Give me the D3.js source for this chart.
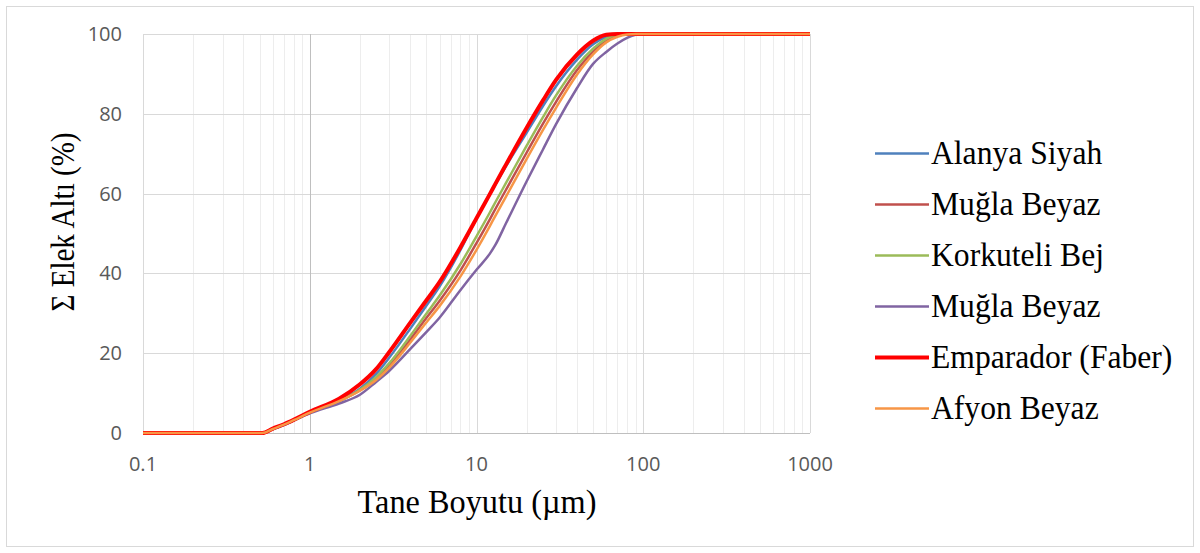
<!DOCTYPE html>
<html>
<head>
<style>
body { margin: 0; background: #fff; }
</style>
</head>
<body>
<script src="https://cdn.jsdelivr.net/npm/d3@7"></script>
<script>
// particle size (µm) and cumulative passing (%)
var sizes = [0.1, 0.5, 0.52, 0.6, 0.7, 0.8, 1, 1.5, 2, 2.5, 3, 4, 5, 6, 8, 10, 12, 13, 15, 20, 25, 30, 40, 50, 60, 70, 80, 90, 100, 200, 500, 1000];

var alanya    = [0, 0, 0, 1.0, 2.1, 3.2, 5.1, 8.2, 11.1, 14.8, 18.9, 26.1, 31.9, 36.7, 45.8, 53.8, 59.8, 62.3, 66.8, 75.3, 81.9, 86.9, 93.5, 97.4, 99.3, 100, 100, 100, 100, 100, 100, 100];
var muglaR    = [0, 0, 0, 1.0, 2.1, 3.2, 5.1, 8.0, 10.7, 13.6, 17.0, 23.4, 28.8, 33.1, 40.7, 47.6, 53.5, 56.2, 60.9, 70.3, 77.5, 83.0, 90.9, 95.6, 98.4, 99.6, 100, 100, 100, 100, 100, 100];
var korkuteli = [0, 0, 0, 1.0, 2.1, 3.2, 5.1, 8.0, 10.8, 14.0, 17.5, 24.3, 29.9, 34.4, 42.3, 49.3, 55.2, 57.9, 62.6, 72.0, 79.1, 84.6, 92.0, 96.3, 98.8, 99.9, 100, 100, 100, 100, 100, 100];
var muglaP    = [0, 0, 0, 0.9, 2.0, 3.1, 4.9, 7.4, 9.6, 12.8, 15.6, 21.0, 25.3, 28.9, 35.8, 40.9, 44.9, 47.2, 52.5, 63.1, 71.0, 77.4, 86.4, 92.5, 95.5, 97.6, 99.0, 99.8, 100, 100, 100, 100];
var emparador = [0, 0, 0, 1.1, 2.2, 3.3, 5.3, 8.6, 12.2, 16.0, 20.3, 27.6, 33.2, 37.8, 46.5, 53.8, 59.8, 62.5, 67.2, 76.5, 83.3, 88.5, 94.8, 98.3, 99.8, 100, 100, 100, 100, 100, 100, 100];
var afyon     = [0, 0, 0, 1.0, 2.1, 3.2, 5.1, 8.0, 10.6, 13.3, 16.4, 22.6, 27.7, 31.8, 39.2, 45.9, 51.8, 54.5, 59.2, 68.7, 75.9, 81.5, 89.8, 94.9, 97.9, 99.3, 99.9, 100, 100, 100, 100, 100];

var names   = ["Alanya Siyah", "Muğla Beyaz", "Korkuteli Bej", "Muğla Beyaz", "Emparador (Faber)", "Afyon Beyaz"];
var series  = [alanya, muglaR, korkuteli, muglaP, emparador, afyon];
var colors  = ["#4F81BD", "#C0504D", "#9BBB59", "#8064A2", "#FF0000", "#F79646"];
var widths  = [2.5, 2.5, 2.5, 2.5, 4, 2.5];

var yTicks = [0, 20, 40, 60, 80, 100];
var xTicks = [0.1, 1, 10, 100, 1000];

var W = 1200, H = 553;
var svg = d3.select("body").append("svg")
  .attr("width", W)
  .attr("height", H);

// outer frame
svg.append("rect")
  .attr("x", 6.5).attr("y", 6.5)
  .attr("width", 1187).attr("height", 540)
  .attr("fill", "#fff")
  .attr("stroke", "#D9D9D9");

var x = d3.scaleLog().domain([0.1, 1000]).range([143, 810]);
var y = d3.scaleLinear().domain([0, 100]).range([433, 34]);

// minor vertical grid
var minor = [];
for (var d = 0.1; d < 1000; d *= 10) {
  for (var k = 2; k < 10; k++) minor.push(d * k);
}
svg.append("g").selectAll("line").data(minor).enter().append("line")
  .attr("x1", function(v) { return Math.round(x(v)) + 0.5; })
  .attr("x2", function(v) { return Math.round(x(v)) + 0.5; })
  .attr("y1", y(0)).attr("y2", y(100))
  .attr("stroke", "#EDEDED");

// horizontal grid
svg.append("g").selectAll("line").data(yTicks).enter().append("line")
  .attr("x1", x(0.1)).attr("x2", x(1000))
  .attr("y1", function(v) { return Math.round(y(v)) + 0.5; })
  .attr("y2", function(v) { return Math.round(y(v)) + 0.5; })
  .attr("stroke", function(v) { return v == 0 ? "#BFBFBF" : "#D9D9D9"; });

// major vertical grid
svg.append("g").selectAll("line").data(xTicks).enter().append("line")
  .attr("x1", function(v) { return Math.round(x(v)) + 0.5; })
  .attr("x2", function(v) { return Math.round(x(v)) + 0.5; })
  .attr("y1", y(0)).attr("y2", y(100))
  .attr("stroke", function(v) { return v == 1 ? "#BFBFBF" : "#D9D9D9"; });

// tick labels
svg.append("g").selectAll("text").data(yTicks).enter().append("text")
  .attr("x", 122)
  .attr("y", function(v) { return y(v) + 7; })
  .attr("text-anchor", "end")
  .attr("font-family", "'Open Sans', sans-serif")
  .attr("font-size", 20)
  .attr("fill", "#595959")
  .text(function(v) { return v; });

svg.append("g").selectAll("text").data(xTicks).enter().append("text")
  .attr("x", function(v) { return x(v); })
  .attr("y", 471)
  .attr("text-anchor", "middle")
  .attr("font-family", "'Open Sans', sans-serif")
  .attr("font-size", 20)
  .attr("fill", "#595959")
  .text(function(v) { return v; });

// curves
var line = d3.line()
  .x(function(d) { return x(d[0]); })
  .y(function(d) { return y(d[1]); })
  .curve(d3.curveMonotoneX);

for (var i = 0; i < series.length; i++) {
  var pts = sizes.map(function(s, j) { return [s, series[i][j]]; });
  svg.append("path")
    .attr("d", line(pts))
    .attr("fill", "none")
    .attr("stroke", colors[i])
    .attr("stroke-width", widths[i])
    .attr("stroke-linejoin", "round");
}

// axis titles (the serif text in the picture is a bit narrow)
svg.append("text")
  .attr("transform", "translate(477,513) scale(0.95,1)")
  .attr("text-anchor", "middle")
  .attr("font-family", "'Liberation Serif', serif")
  .attr("font-size", 34)
  .attr("fill", "#000")
  .text("Tane Boyutu (µm)");

svg.append("text")
  .attr("transform", "translate(74,222) rotate(-90) scale(0.88,1)")
  .attr("text-anchor", "middle")
  .attr("font-family", "'Liberation Serif', serif")
  .attr("font-size", 33)
  .attr("fill", "#000")
  .text("Σ Elek Altı (%)");

// legend
var leg = svg.append("g");
for (var i = 0; i < names.length; i++) {
  var ly = 153.5 + i * 51;
  leg.append("line")
    .attr("x1", 875).attr("x2", 929)
    .attr("y1", ly).attr("y2", ly)
    .attr("stroke", colors[i])
    .attr("stroke-width", widths[i]);
  leg.append("text")
    .attr("transform", "translate(931," + (ly + 10) + ") scale(0.93,1)")
    .attr("font-family", "'Liberation Serif', serif")
    .attr("font-size", 34)
    .attr("fill", "#000")
    .text(names[i]);
}
</script>
</body>
</html>
